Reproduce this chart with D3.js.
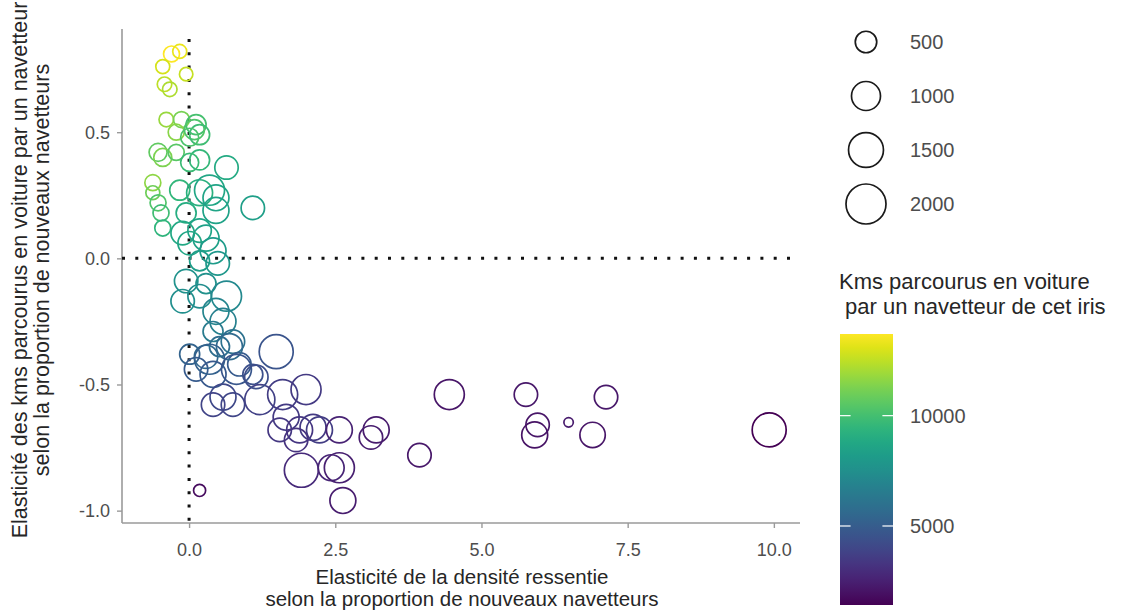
<!DOCTYPE html>
<html>
<head>
<meta charset="utf-8">
<script src="https://cdn.jsdelivr.net/npm/d3@7"></script>
<style>
  html, body { margin: 0; padding: 0; background: #ffffff; }
  svg { display: block; font-family: "Liberation Sans", Arial, sans-serif; }
</style>
</head>
<body>
<svg id="chart" width="1137" height="611"></svg>
<script>
// Elasticité de la densité ressentie (x) pour chaque iris
const xElast = [
  -0.30, -0.16, -0.45, -0.05, -0.42, -0.33, -0.39, -0.13, 0.12, -0.22,
  0.09, 0.18, 0.01, -0.53, -0.45, -0.22, 0.18, 0.01, 0.64, -0.62,
  -0.62, -0.53, -0.16, 0.18, 0.35, 0.46, 1.09, -0.48, -0.05, 0.46,
  -0.45, -0.11, 0.18, 0.29, 0.01, 0.41, 0.49, 0.18, -0.05, 0.29,
  -0.11, 0.18, 0.64, 0.46, 0.58, 0.41, 0.75, 0.01, 0.29, 0.52,
  1.49, 0.12, 0.41, 0.86, 1.09, 0.69, 0.58, 0.41, 0.75, 1.21,
  1.60, 2.00, 1.66, 1.55, 1.89, 2.12, 2.23, 1.83, 2.57, 3.20,
  3.11, 3.94, 4.45, 1.92, 2.43, 2.57, 2.63, 0.18, 5.76, 5.96,
  5.91, 6.49, 6.90, 7.13, 9.92, 0.35, 0.81, 1.15
];
// Elasticité des kms parcourus en voiture par un navetteur (y)
const yElast = [
  0.81, 0.82, 0.76, 0.73, 0.69, 0.67, 0.55, 0.55, 0.53, 0.50,
  0.51, 0.49, 0.48, 0.42, 0.40, 0.42, 0.39, 0.38, 0.36, 0.30,
  0.26, 0.22, 0.27, 0.26, 0.27, 0.24, 0.20, 0.18, 0.18, 0.19,
  0.12, 0.10, 0.11, 0.08, 0.06, 0.03, -0.02, -0.01, -0.09, -0.10,
  -0.17, -0.15, -0.15, -0.21, -0.25, -0.29, -0.33, -0.38, -0.39, -0.35,
  -0.37, -0.44, -0.46, -0.42, -0.46, -0.35, -0.55, -0.58, -0.58, -0.56,
  -0.54, -0.52, -0.63, -0.68, -0.68, -0.67, -0.68, -0.72, -0.68, -0.68,
  -0.71, -0.78, -0.54, -0.84, -0.83, -0.83, -0.96, -0.92, -0.54, -0.66,
  -0.70, -0.65, -0.70, -0.55, -0.68, -0.40, -0.44, -0.47
];
// Nombre de navetteurs de l'iris (taille des cercles)
const navetteurs = [
  230, 150, 150, 130, 170, 170, 170, 230, 420, 230,
  420, 420, 320, 320, 320, 230, 420, 320, 615, 230,
  150, 230, 420, 780, 1080, 780, 615, 230, 420, 780,
  230, 615, 615, 780, 615, 780, 615, 420, 615, 420,
  615, 615, 1080, 780, 780, 420, 615, 420, 615, 420,
  1415, 615, 780, 615, 420, 780, 780, 615, 615, 1080,
  1080, 1080, 780, 615, 780, 780, 780, 615, 780, 780,
  615, 615, 1080, 1415, 780, 1080, 780, 85, 615, 615,
  780, 10, 740, 615, 1415, 1080, 1080, 615
];
// Kms parcourus en voiture par un navetteur de l'iris (couleur)
const kmVoiture = [
  13700, 13300, 12900, 12600, 12500, 12200, 11800, 11200, 10100, 11500,
  10300, 9900, 10200, 10700, 11300, 10500, 9600, 9800, 8900, 11600,
  11000, 10300, 9500, 9200, 8700, 8600, 8300, 9900, 9000, 8500,
  9400, 8800, 8600, 8400, 8700, 8100, 7900, 8200, 7700, 7600,
  7500, 7400, 7200, 7000, 6700, 6500, 6000, 5300, 5500, 5800,
  4600, 4900, 4800, 4900, 4400, 5600, 4100, 3900, 4000, 3800,
  3600, 3500, 3500, 3400, 3300, 3500, 3600, 3200, 2600, 2300,
  2400, 2200, 2100, 2900, 2700, 2500, 2400, 1800, 2200, 2100,
  2000, 2300, 2100, 2200, 1420, 5200, 4700, 4300
];

const xTicks = [0, 2.5, 5, 7.5, 10];
const yTicks = [-1, -0.5, 0, 0.5];
const sizeLegendValues = [500, 1000, 1500, 2000];
const colorTicks = [5000, 10000];

const xTitle = ["Elasticité de la densité ressentie", "selon la proportion de nouveaux navetteurs"];
const yTitle = ["Elasticité des kms parcourus en voiture par un navetteur", "selon la proportion de nouveaux navetteurs"];
const colorTitle = ["Kms parcourus en voiture", " par un navetteur de cet iris"];

const points = xElast.map((x, i) => ({ x, y: yElast[i], n: navetteurs[i], km: kmVoiture[i] }));

const svg = d3.select("#chart");
const panel = { left: 122, right: 800, top: 29, bottom: 523 };

// 5 % expansion of the data range on both axes
function expand(ext) {
  const pad = (ext[1] - ext[0]) * 0.05;
  return [ext[0] - pad, ext[1] + pad];
}

const x = d3.scaleLinear().domain(expand(d3.extent(xElast))).range([panel.left, panel.right]);
const y = d3.scaleLinear().domain(expand(d3.extent(yElast))).range([panel.bottom, panel.top]);
const r = d3.scaleRadial().domain([0, 2000]).range([4.5, 20]);
const kmExtent = d3.extent(kmVoiture);
const color = d3.scaleSequential(d3.interpolateViridis).domain(kmExtent);

// Tick labels with a plain hyphen for negatives
const fmt = d => d3.format(".1f")(d).replace("\u2212", "-");

// Axes
const axisColor = "#9a9a9a";
const tickText = "#4d4d4d";

const xAxis = svg.append("g")
  .attr("transform", `translate(0,${panel.bottom})`)
  .call(d3.axisBottom(x).tickValues(xTicks).tickFormat(fmt).tickSize(5).tickSizeOuter(0));
const yAxis = svg.append("g")
  .attr("transform", `translate(${panel.left},0)`)
  .call(d3.axisLeft(y).tickValues(yTicks).tickFormat(fmt).tickSize(5).tickSizeOuter(0));

[xAxis, yAxis].forEach(g => {
  g.select(".domain").attr("stroke", axisColor).attr("stroke-width", 1.6);
  g.selectAll(".tick line").attr("stroke", axisColor).attr("stroke-width", 1.4);
  g.selectAll(".tick text")
    .attr("fill", tickText)
    .attr("font-size", 18)
    .attr("font-family", "Liberation Sans, Arial, sans-serif");
});
xAxis.selectAll(".tick text").attr("dy", null).attr("y", 33);
yAxis.selectAll(".tick text").attr("x", -12).attr("dy", "0.35em");
yAxis.select(".domain").attr("d", `M0,${panel.top}V${panel.bottom}`);
xAxis.select(".domain").attr("d", `M${panel.left},0H${panel.right}`);

// Dotted reference lines at zero
const refLines = svg.append("g")
  .attr("stroke", "#111")
  .attr("stroke-width", 3)
  .attr("stroke-dasharray", "3 10.3");
refLines.append("line")
  .attr("x1", x(0)).attr("x2", x(0))
  .attr("y1", panel.top + 10).attr("y2", panel.bottom);
refLines.append("line")
  .attr("x1", panel.left).attr("x2", panel.right - 4)
  .attr("y1", y(0)).attr("y2", y(0));

// Bubbles
svg.append("g")
  .attr("fill", "none")
  .attr("stroke-width", 1.7)
  .selectAll("circle")
  .data(points)
  .join("circle")
  .attr("cx", d => x(d.x))
  .attr("cy", d => y(d.y))
  .attr("r", d => r(d.n))
  .attr("stroke", d => color(d.km));

// Axis titles
const xt = svg.append("text")
  .attr("text-anchor", "middle")
  .attr("fill", "#262626")
  .attr("font-size", 20.5);
xTitle.forEach((t, i) => {
  xt.append("tspan").attr("x", (panel.left + panel.right) / 2 + 1).attr("y", 584 + i * 21.5).text(t);
});

const yt = svg.append("text")
  .attr("text-anchor", "middle")
  .attr("fill", "#262626")
  .attr("font-size", 21.5)
  .attr("transform", `translate(27,${(panel.top + panel.bottom) / 2 - 6}) rotate(-90)`);
yTitle.forEach((t, i) => {
  yt.append("tspan").attr("x", 0).attr("y", i * 22).text(t);
});

// Size legend
const sizeLegend = svg.append("g");
sizeLegendValues.forEach((v, i) => {
  const cy = 42 + i * 54;
  sizeLegend.append("circle")
    .attr("cx", 866).attr("cy", cy).attr("r", r(v))
    .attr("fill", "none").attr("stroke", "#1a1a1a").attr("stroke-width", 1.7);
  sizeLegend.append("text")
    .attr("x", 910).attr("y", cy).attr("dy", "0.36em")
    .attr("font-size", 20).attr("fill", "#4d4d4d")
    .text(v);
});

// Colour bar
const bar = { x: 840, w: 53, top: 334, bottom: 605 };
const cbScale = d3.scaleLinear().domain(kmExtent).range([bar.bottom, bar.top]);
const defs = svg.append("defs");
const grad = defs.append("linearGradient")
  .attr("id", "kmGradient")
  .attr("x1", 0).attr("y1", 1).attr("x2", 0).attr("y2", 0);
d3.range(0, 1.0001, 0.05).forEach(t => {
  grad.append("stop")
    .attr("offset", t)
    .attr("stop-color", color(kmExtent[0] + t * (kmExtent[1] - kmExtent[0])));
});
svg.append("rect")
  .attr("x", bar.x).attr("y", bar.top)
  .attr("width", bar.w).attr("height", bar.bottom - bar.top)
  .attr("fill", "url(#kmGradient)");

const cbTicks = svg.append("g").attr("stroke", "#ffffff").attr("stroke-width", 1.2);
colorTicks.forEach(v => {
  const ty = cbScale(v);
  cbTicks.append("line").attr("x1", bar.x).attr("x2", bar.x + bar.w / 5).attr("y1", ty).attr("y2", ty);
  cbTicks.append("line").attr("x1", bar.x + bar.w * 4 / 5).attr("x2", bar.x + bar.w).attr("y1", ty).attr("y2", ty);
  svg.append("text")
    .attr("x", 910).attr("y", ty).attr("dy", "0.36em")
    .attr("font-size", 20).attr("fill", "#4d4d4d")
    .text(v);
});

const ct = svg.append("text")
  .attr("fill", "#262626")
  .attr("font-size", 22)
  .style("white-space", "pre");
colorTitle.forEach((t, i) => {
  ct.append("tspan").attr("x", 839).attr("y", 289 + i * 25).text(t);
});
</script>
</body>
</html>
